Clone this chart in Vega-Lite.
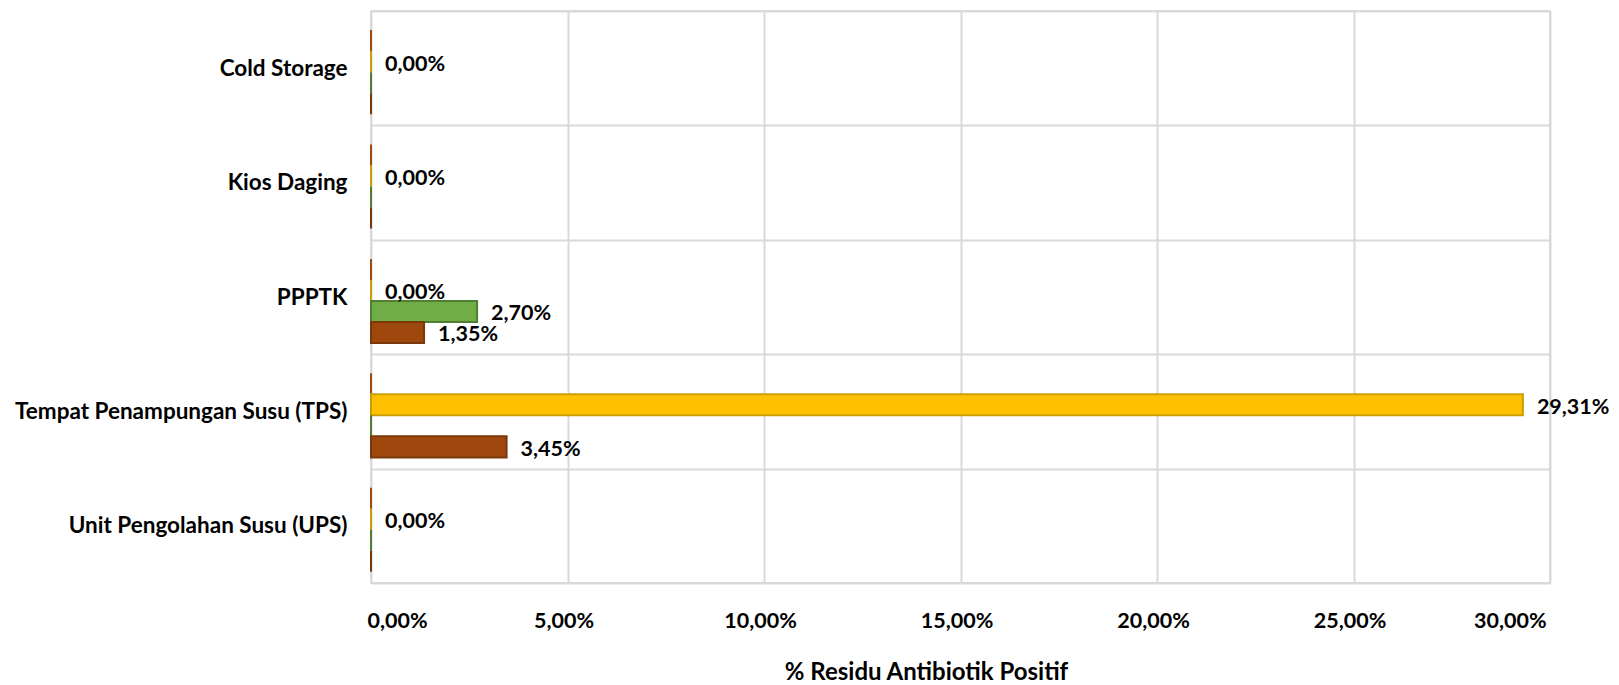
{
  "$schema": "https://vega.github.io/schema/vega-lite/v6.json",
  "width": 1179,
  "height": 572,
  "autosize": {"type": "none"},
  "padding": {"left": 371, "top": 11, "right": 69, "bottom": 102},
  "background": "white",
  "config": {
    "locale": {"number": {"decimal": ",", "thousands": ".", "grouping": [3], "currency": ["", ""]}},
    "view": {"stroke": "#D9D9D9", "strokeWidth": 2},
    "font": "Lato"
  },
  "data": {
    "values": [
      {"cat": "Cold Storage", "s": "Seri 1", "v": 0, "lab": false},
      {"cat": "Cold Storage", "s": "Seri 2", "v": 0, "lab": true},
      {"cat": "Cold Storage", "s": "Seri 3", "v": 0, "lab": false},
      {"cat": "Cold Storage", "s": "Seri 4", "v": 0, "lab": false},
      {"cat": "Kios Daging", "s": "Seri 1", "v": 0, "lab": false},
      {"cat": "Kios Daging", "s": "Seri 2", "v": 0, "lab": true},
      {"cat": "Kios Daging", "s": "Seri 3", "v": 0, "lab": false},
      {"cat": "Kios Daging", "s": "Seri 4", "v": 0, "lab": false},
      {"cat": "PPPTK", "s": "Seri 1", "v": 0, "lab": false},
      {"cat": "PPPTK", "s": "Seri 2", "v": 0, "lab": true},
      {"cat": "PPPTK", "s": "Seri 3", "v": 0.027, "lab": true},
      {"cat": "PPPTK", "s": "Seri 4", "v": 0.0135, "lab": true},
      {"cat": "Tempat Penampungan Susu (TPS)", "s": "Seri 1", "v": 0, "lab": false},
      {"cat": "Tempat Penampungan Susu (TPS)", "s": "Seri 2", "v": 0.2931, "lab": true},
      {"cat": "Tempat Penampungan Susu (TPS)", "s": "Seri 3", "v": 0, "lab": false},
      {"cat": "Tempat Penampungan Susu (TPS)", "s": "Seri 4", "v": 0.0345, "lab": true},
      {"cat": "Unit Pengolahan Susu (UPS)", "s": "Seri 1", "v": 0, "lab": false},
      {"cat": "Unit Pengolahan Susu (UPS)", "s": "Seri 2", "v": 0, "lab": true},
      {"cat": "Unit Pengolahan Susu (UPS)", "s": "Seri 3", "v": 0, "lab": false},
      {"cat": "Unit Pengolahan Susu (UPS)", "s": "Seri 4", "v": 0, "lab": false}
    ]
  },
  "encoding": {
    "y": {
      "field": "cat", "type": "nominal",
      "sort": ["Cold Storage", "Kios Daging", "PPPTK", "Tempat Penampungan Susu (TPS)", "Unit Pengolahan Susu (UPS)"],
      "scale": {"paddingInner": 0, "paddingOuter": 0},
      "axis": {
        "title": null, "ticks": false, "domain": false,
        "grid": true, "tickBand": "extent", "gridColor": "#D9D9D9", "gridWidth": 2,
        "labelFont": "Lato", "labelFontWeight": "bold", "labelFontSize": 22.5,
        "labelColor": "#000000", "labelPadding": 24, "labelLimit": 400
      }
    },
    "yOffset": {
      "field": "s", "type": "nominal",
      "sort": ["Seri 1", "Seri 2", "Seri 3", "Seri 4"],
      "scale": {"paddingInner": 0, "paddingOuter": 0.72, "align": 0.63}
    },
    "x": {
      "field": "v", "type": "quantitative",
      "scale": {"domain": [0, 0.3], "nice": false},
      "axis": {
        "title": "% Residu Antibiotik Positif",
        "format": ".2%", "values": [0, 0.05, 0.1, 0.15, 0.2, 0.25, 0.3],
        "grid": true, "gridColor": "#D9D9D9", "gridWidth": 2,
        "domain": false, "ticks": false,
        "labelFont": "Lato", "labelFontWeight": "bold", "labelFontSize": 21.5,
        "labelColor": "#000000", "labelPadding": 27, "labelOffset": -4,
        "titleFont": "Lato", "titleFontWeight": "bold", "titleFontSize": 24,
        "titleColor": "#000000", "titlePadding": 29, "titleX": 555
      }
    }
  },
  "layer": [
    {
      "mark": {"type": "bar", "strokeWidth": 2},
      "encoding": {
        "color": {
          "field": "s", "type": "nominal", "legend": null,
          "scale": {"domain": ["Seri 1", "Seri 2", "Seri 3", "Seri 4"], "range": ["#C55A11", "#FFC000", "#70AD47", "#9E480E"]}
        },
        "stroke": {
          "field": "s", "type": "nominal", "legend": null,
          "scale": {"domain": ["Seri 1", "Seri 2", "Seri 3", "Seri 4"], "range": ["#A04A0E", "#C9A000", "#507E32", "#7A380B"]}
        }
      }
    },
    {
      "transform": [{"filter": "datum.lab"}],
      "mark": {"type": "text", "align": "left", "baseline": "middle", "dx": 14, "dy": 3, "font": "Lato", "fontWeight": "bold", "fontSize": 21.5, "color": "#000000"},
      "encoding": {
        "text": {"field": "v", "type": "quantitative", "format": ".2%"}
      }
    }
  ]
}
